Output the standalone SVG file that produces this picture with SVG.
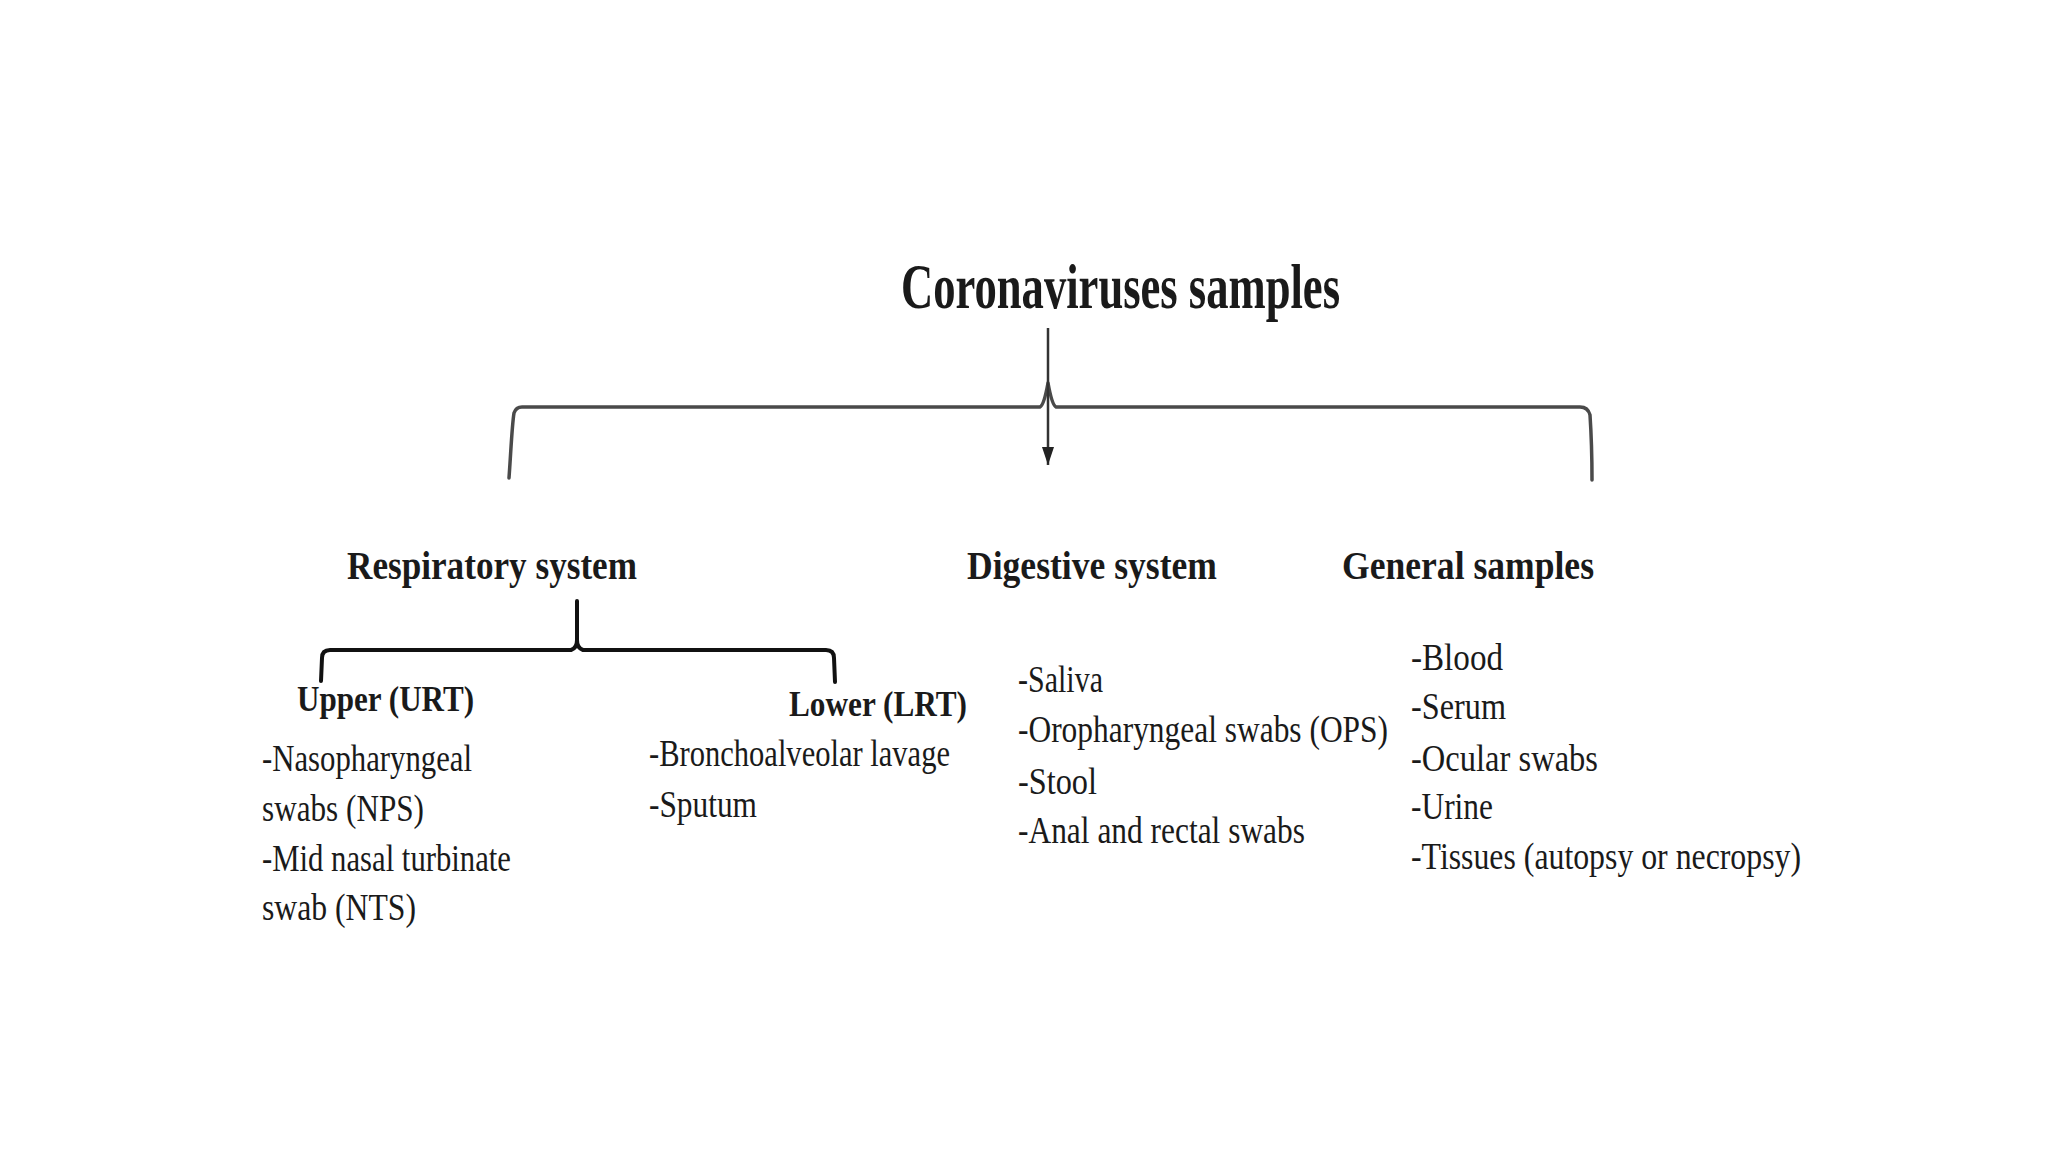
<svg xmlns="http://www.w3.org/2000/svg" width="2048" height="1152" viewBox="0 0 2048 1152">
  <style>
    .t { font-family: "Liberation Serif", "Times New Roman", serif; fill: #1a1a1a; }
    .title { font-size: 64px; font-weight: bold; }
    .head { font-size: 40px; font-weight: bold; }
    .sub { font-size: 36px; font-weight: bold; }
    .item { font-size: 37px; }
    .brace { fill: none; stroke: #4a4a4a; stroke-width: 3.5; stroke-linejoin: round; stroke-linecap: round; }
    .brace2 { fill: none; stroke: #111; stroke-width: 4; stroke-linejoin: round; stroke-linecap: round; }
    .arrow { fill: none; stroke: #333; stroke-width: 2.5; }
  </style>
  <defs>
    <marker id="ah" markerWidth="20" markerHeight="14" refX="18" refY="7" orient="auto" markerUnits="userSpaceOnUse" viewBox="0 0 20 14">
      <path d="M0,1 L18,7 L0,13 Z" fill="#222"/>
    </marker>
  </defs>
  <rect width="2048" height="1152" fill="#ffffff"/>

  <g id="title">
    <text class="t title" x="901" y="308" textLength="439" lengthAdjust="spacingAndGlyphs">Coronaviruses samples</text>
  </g>

  <g id="connectors">
    <path class="brace" d="M509,478 C511,450 512,425 514,413 Q516,407 522,407 L1040,407 Q1044,405 1048,383 Q1052,405 1056,407 L1580,407 Q1588,407 1590,415 C1591,430 1592,455 1592,480"/>
    <line class="arrow" x1="1048" y1="328" x2="1048" y2="465" marker-end="url(#ah)"/>
    <path class="brace2" d="M577,601 L577,640 Q577,648 571,650 L330,650 Q322,650 322,658 L321,681"/>
    <path class="brace2" d="M577,640 Q577,648 583,650 L826,650 Q834,650 834,658 L835,682"/>
  </g>

  <g id="respiratory">
    <text class="t head" x="347" y="579" textLength="290" lengthAdjust="spacingAndGlyphs">Respiratory system</text>
  </g>
  <g id="upper">
    <text class="t sub" x="297" y="711" textLength="177" lengthAdjust="spacingAndGlyphs">Upper (URT)</text>
    <text class="t item" x="262" y="771" textLength="210" lengthAdjust="spacingAndGlyphs">-Nasopharyngeal</text>
    <text class="t item" x="262" y="821" textLength="162" lengthAdjust="spacingAndGlyphs">swabs (NPS)</text>
    <text class="t item" x="262" y="871" textLength="249" lengthAdjust="spacingAndGlyphs">-Mid nasal turbinate</text>
    <text class="t item" x="262" y="920" textLength="154" lengthAdjust="spacingAndGlyphs">swab (NTS)</text>
  </g>
  <g id="lower">
    <text class="t sub" x="789" y="716" textLength="178" lengthAdjust="spacingAndGlyphs">Lower (LRT)</text>
    <text class="t item" x="649" y="766" textLength="301" lengthAdjust="spacingAndGlyphs">-Bronchoalveolar lavage</text>
    <text class="t item" x="649" y="817" textLength="108" lengthAdjust="spacingAndGlyphs">-Sputum</text>
  </g>
  <g id="digestive">
    <text class="t head" x="967" y="579" textLength="250" lengthAdjust="spacingAndGlyphs">Digestive system</text>
    <text class="t item" x="1018" y="692" textLength="85" lengthAdjust="spacingAndGlyphs">-Saliva</text>
    <text class="t item" x="1018" y="742" textLength="370" lengthAdjust="spacingAndGlyphs">-Oropharyngeal swabs (OPS)</text>
    <text class="t item" x="1018" y="794" textLength="79" lengthAdjust="spacingAndGlyphs">-Stool</text>
    <text class="t item" x="1018" y="843" textLength="287" lengthAdjust="spacingAndGlyphs">-Anal and rectal swabs</text>
  </g>
  <g id="general">
    <text class="t head" x="1342" y="579" textLength="252" lengthAdjust="spacingAndGlyphs">General samples</text>
    <text class="t item" x="1411" y="670" textLength="92" lengthAdjust="spacingAndGlyphs">-Blood</text>
    <text class="t item" x="1411" y="719" textLength="95" lengthAdjust="spacingAndGlyphs">-Serum</text>
    <text class="t item" x="1411" y="771" textLength="187" lengthAdjust="spacingAndGlyphs">-Ocular swabs</text>
    <text class="t item" x="1411" y="819" textLength="82" lengthAdjust="spacingAndGlyphs">-Urine</text>
    <text class="t item" x="1411" y="869" textLength="390" lengthAdjust="spacingAndGlyphs">-Tissues (autopsy or necropsy)</text>
  </g>
</svg>
